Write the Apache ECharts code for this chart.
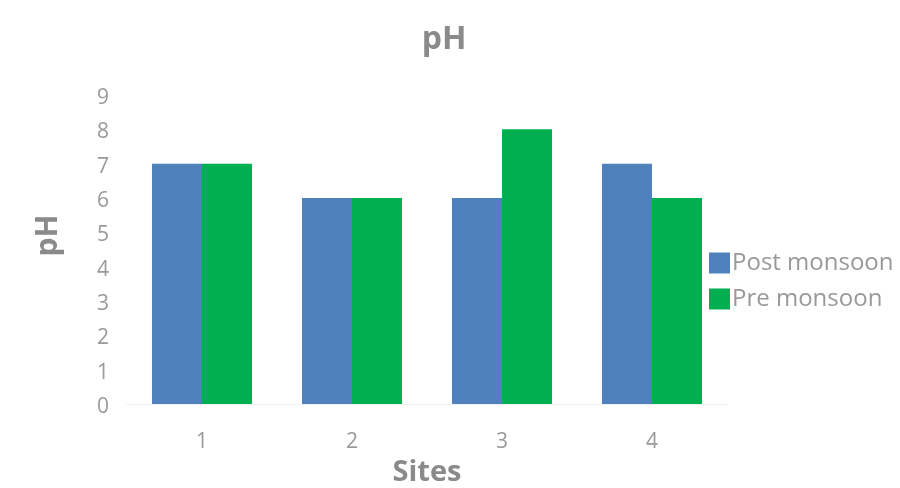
<!DOCTYPE html>
<html>
<head>
<meta charset="utf-8">
<script src="https://cdn.jsdelivr.net/npm/echarts@6/dist/echarts.min.js"></script>
<style>
  html, body { margin: 0; padding: 0; background: #fff; }
  #chart { width: 900px; height: 488px; }
</style>
</head>
<body>
<div id="chart"></div>
<script>
// pH readings per sampling site
const sites = ['1', '2', '3', '4'];
const postMonsoon = [7, 6, 6, 7];
const preMonsoon = [7, 6, 8, 6];

const FONT = '"Open Sans", "Noto Sans", sans-serif';
const chart = echarts.init(document.getElementById('chart'));

chart.setOption({
  backgroundColor: '#ffffff',
  animation: false,
  textStyle: { fontFamily: FONT },
  title: {
    text: 'pH',
    left: 439,
    top: 19,
    textAlign: 'center',
    textStyle: { fontFamily: FONT, fontSize: 32, fontWeight: 'bold', color: '#8a8a8a' }
  },
  legend: {
    orient: 'vertical',
    left: 704,
    top: 246,
    itemWidth: 21,
    itemHeight: 21,
    itemGap: 12,
    icon: 'rect',
    textStyle: { fontFamily: FONT, fontSize: 24, lineHeight: 21, color: '#999999', padding: [0, 0, 0, -3] },
    data: ['Post monsoon', 'Pre monsoon']
  },
  grid: { left: 127, right: 173, top: 95, bottom: 84, containLabel: false, outerBoundsMode: 'none' },
  xAxis: {
    type: 'category',
    data: sites,
    name: 'Sites',
    nameLocation: 'middle',
    nameGap: 50,
    nameTextStyle: { fontFamily: FONT, fontSize: 29, fontWeight: 'bold', color: '#8a8a8a' },
    axisLine: { lineStyle: { color: '#eeeeee', width: 1 } },
    axisTick: { show: false },
    axisLabel: { fontFamily: FONT, fontSize: 21, color: '#999999', margin: 28 }
  },
  yAxis: {
    type: 'value',
    min: 0,
    max: 9,
    interval: 1,
    name: 'pH',
    nameLocation: 'middle',
    nameGap: 64,
    nameRotate: 90,
    nameTextStyle: { fontFamily: FONT, fontSize: 30, fontWeight: 'bold', color: '#8a8a8a', padding: [0, 0, 0, 28] },
    axisLine: { show: false },
    axisTick: { show: false },
    splitLine: { show: false },
    axisLabel: {
      margin: 18,
      formatter: '{v|{value}}',
      rich: { v: { fontFamily: FONT, fontSize: 21, color: '#999999', padding: [6, 0, 0, 0] } }
    }
  },
  series: [
    {
      name: 'Post monsoon',
      type: 'bar',
      data: postMonsoon,
      barGap: '0%',
      barCategoryGap: '33.3%',
      itemStyle: { color: '#4f81bd' }
    },
    {
      name: 'Pre monsoon',
      type: 'bar',
      data: preMonsoon,
      barGap: '0%',
      barCategoryGap: '33.3%',
      itemStyle: { color: '#00b050' }
    }
  ]
});
</script>
</body>
</html>
